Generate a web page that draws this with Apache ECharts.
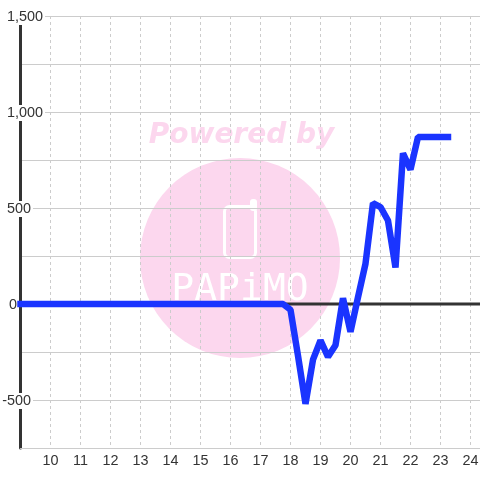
<!DOCTYPE html>
<html><head><meta charset="utf-8">
<style>html,body{margin:0;padding:0;background:#fff}#c{width:480px;height:480px}</style>
<script src="https://cdn.jsdelivr.net/npm/echarts@6/dist/echarts.min.js"></script>
</head><body><div id="c"></div>
<script>
const hours = [9,9.25,9.5,9.75,10,10.25,10.5,10.75,11,11.25,11.5,11.75,12,12.25,12.5,12.75,13,13.25,13.5,13.75,14,14.25,14.5,14.75,15,15.25,15.5,15.75,16,16.25,16.5,16.75,17,17.25,17.5,17.75,18,18.25,18.5,18.75,19,19.25,19.5,19.75,20,20.25,20.5,20.75,21,21.25,21.5,21.75,22,22.25,22.5,22.75,23,23.25];
const values = [0,0,0,0,0,0,0,0,0,0,0,0,0,0,0,0,0,0,0,0,0,0,0,0,0,0,0,0,0,0,0,0,0,0,0,0,-30,-270,-520,-290,-190,-275,-215,30,-145,35,210,525,505,435,190,785,700,870,870,870,870,870];
const yTicks = [-500,0,500,1000,1500];
const wm = '#fcd7ee';
const lbl = {color:'#333',fontSize:14.4,fontFamily:'Liberation Sans',backgroundColor:'#fff',padding:[0,2,0,2],height:16,lineHeight:16};
const chart = echarts.init(document.getElementById('c'),null,{renderer:'canvas'});
chart.setOption({
  animation:false,
  backgroundColor:'#fff',
  grid:{left:20.5,right:0,top:16,bottom:32,outerBoundsMode:'none'},
  graphic:[
    {type:'circle',z:-10,shape:{cx:240,cy:258,r:100},style:{fill:wm}},
    {type:'text',z:-10,x:241.5,y:136,style:{text:'Powered by',fill:wm,font:'italic bold 28px "DejaVu Sans"',align:'center',verticalAlign:'middle'}},
    {type:'rect',z:-9,shape:{x:224.5,y:206.5,width:31,height:51,r:5},style:{fill:null,stroke:'#fff',lineWidth:3}},
    {type:'rect',z:-9,shape:{x:250,y:199,width:7,height:12,r:3},style:{fill:'#fff'}},
    {type:'text',z:-9,x:240,y:290,style:{text:'PAPiMO',fill:'#fff',font:'38px "DejaVu Sans Mono"',align:'center',verticalAlign:'middle'}}
  ],
  xAxis:{type:'value',min:9,max:24.317,interval:1,
    axisLine:{show:true,onZero:false,lineStyle:{color:'#ccc',width:1}},
    axisTick:{show:false},
    axisLabel:{color:'#333',fontSize:14.4,fontFamily:'Liberation Sans',margin:6,showMaxLabel:false,
      formatter:v=>(v>=10&&v<=24)?String(v):''},
    splitLine:{show:true,lineStyle:{color:'#ccc',type:[3,3],width:1}}},
  yAxis:{type:'value',min:-750,max:1500,interval:250,
    axisLine:{show:true,onZero:false,lineStyle:{color:'#333',width:3}},
    axisTick:{show:false},
    axisLabel:{align:'right',margin:-24.5,padding:[2,0,0,0],
      rich:{t:lbl,s:{width:12},z:{width:26}},
      formatter:v=>{
        if(!yTicks.includes(v)) return '';
        const s=v.toLocaleString('en-US');
        if(v===0) return '{t|'+s+'}{z|}';
        if(Math.abs(v)===500) return '{t|'+s+'}{s|}';
        return '{t|'+s+'}';
      }},
    splitLine:{show:true,lineStyle:{color:'#ccc',width:1}}},
  series:[
    {type:'line',silent:true,data:[[9,0],[24.317,0]],symbol:'none',z:1,lineStyle:{color:'#333',width:3}},
    {type:'line',data:hours.map((h,i)=>[h,values[i]]),symbol:'none',z:3,lineStyle:{color:'#1a34ff',width:6.5,join:'bevel',cap:'square'}}
  ]
});
</script></body></html>
